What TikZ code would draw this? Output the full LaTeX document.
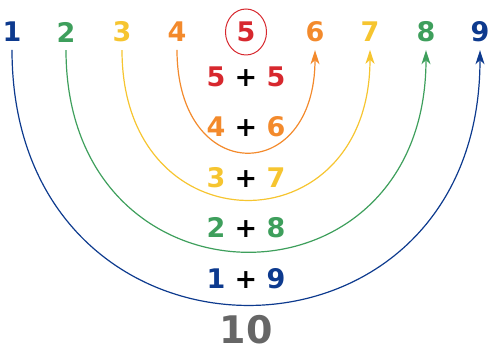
\documentclass[tikz,border=0pt]{standalone}
\usepackage{fontspec}
\setmainfont{DejaVu Sans}
\usepackage{tikz}
\usetikzlibrary{arrows.meta}
\usepackage{xcolor}
\definecolor{mNavy}{HTML}{0D3A8E}
\definecolor{mGreen}{HTML}{3E9F5C}
\definecolor{mYellow}{HTML}{F6C530}
\definecolor{mOrange}{HTML}{F38A2C}
\definecolor{mRed}{HTML}{D7282E}
\definecolor{mGrey}{HTML}{666666}

\begin{document}
\begin{tikzpicture}[x=1pt, y=1pt, >={Stealth[length=14pt, width=9pt, inset=4pt]},
    digit/.style={font=\fontsize{27}{27}\selectfont\bfseries, inner sep=0pt, outer sep=8pt},
    sum/.style={font=\fontsize{27}{27}\selectfont\bfseries, inner sep=0pt}]
  \useasboundingbox (0,0) rectangle (491,353);
  % digits 1..9 along the top
  \foreach \n/\x/\col in {1/12/mNavy, 2/66/mGreen, 3/122/mYellow, 4/177/mOrange, 5/246/mRed,
                          6/315/mOrange, 7/370/mYellow, 8/426/mGreen, 9/480/mNavy} {
    \node[digit, \col] (d\n) at (\x,321) {\n};
  }
  \draw[mRed, line width=1pt] (d5.center) ellipse[x radius=20.5, y radius=23];
  % each digit bends down to its partner
  \foreach \a/\b/\col/\c in {1/9/mNavy/339, 2/8/mGreen/268, 3/7/mYellow/199, 4/6/mOrange/136} {
    \draw[->, \col, line width=1.2pt] (d\a.south) .. controls +(0,-\c) and +(0,-\c) .. (d\b.south);
  }
  % the sums, innermost first
  \foreach \a/\b/\col/\y in {5/5/mRed/276, 4/6/mOrange/226, 3/7/mYellow/175.5, 2/8/mGreen/125, 1/9/mNavy/74} {
    \node[sum] (s\a) at (246,\y) {\textcolor{\col}{\a} + \textcolor{\col}{\b}};
  }
  \node[font=\fontsize{38}{38}\selectfont\bfseries, mGrey, inner sep=0pt] (ten) at (246,23) {10};
\end{tikzpicture}
\end{document}
